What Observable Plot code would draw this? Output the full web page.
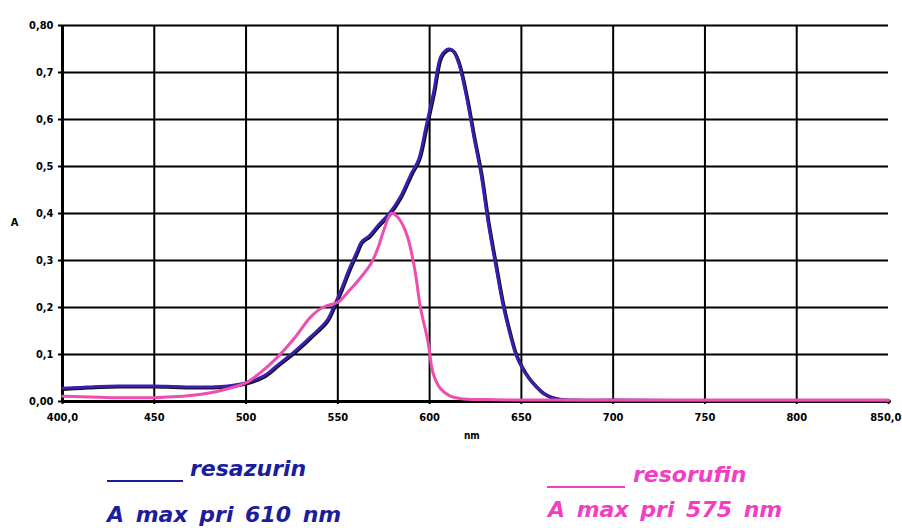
<!DOCTYPE html>
<html><head><meta charset="utf-8">
<script src="https://cdn.jsdelivr.net/npm/d3@7"></script>
<script src="https://cdn.jsdelivr.net/npm/@observablehq/plot@0.6"></script>
<style>
body{margin:0;background:#fff;}
#wrap{position:relative;width:902px;height:528px;overflow:hidden;}
.leg{position:absolute;font-family:"DejaVu Sans",sans-serif;font-weight:bold;font-style:italic;font-size:22px;white-space:pre;line-height:1;word-spacing:4px;}
.bar{position:absolute;height:0;border-bottom:2.5px solid;}
</style></head><body>
<div id="wrap"><div id="chart"></div>
<div class="bar" style="left:107px;top:480px;width:76px;border-color:#1c1c9e"></div>
<div class="leg" style="left:190px;top:458px;color:#1c1c9e">resazurin</div>
<div class="leg" style="left:107px;top:504px;color:#1c1c9e">A max pri 610 nm</div>
<div class="bar" style="left:547px;top:486px;width:78px;border-color:#f23ec4"></div>
<div class="leg" style="left:633px;top:464px;color:#f23ec4">resorufin</div>
<div class="leg" style="left:548px;top:499px;color:#f23ec4">A max pri 575 nm</div>
</div>
<script>
const xTicks = [400,450,500,550,600,650,700,750,800,850];
const xTickLabels = ["400,0","450","500","550","600","650","700","750","800","850,0"];
const yTicks = [0,0.1,0.2,0.3,0.4,0.5,0.6,0.7,0.8];
const yTickLabels = ["0,00","0,1","0,2","0,3","0,4","0,5","0,6","0,7","0,80"];

const resazurinNm = [400,410,420,430,440,450,460,470,480,490,500,510,517,526,535,544,548,552,556,560,563,567,572,578,584,590,594,598,602,606,609,611,613,616,620,624,628,632,636,640,644,647,650,654,658,662,666,671,680,700,750,800,850];
const resazurinA  = [0.028,0.030,0.032,0.033,0.033,0.033,0.032,0.031,0.031,0.033,0.040,0.055,0.077,0.105,0.137,0.172,0.204,0.240,0.280,0.315,0.340,0.352,0.375,0.400,0.435,0.485,0.515,0.584,0.655,0.733,0.748,0.750,0.745,0.718,0.650,0.565,0.484,0.378,0.290,0.205,0.140,0.100,0.075,0.050,0.032,0.018,0.010,0.005,0.003,0.003,0.002,0.002,0.002];

const resorufinNm = [400,410,420,430,440,450,460,470,480,490,500,508,517,526,535,540,544,550,556,561,568,572,575,579,581,584,588,592,595,599,602,606,611,617,630,650,700,750,800,850];
const resorufinA  = [0.011,0.010,0.009,0.008,0.008,0.008,0.010,0.013,0.018,0.027,0.040,0.062,0.094,0.133,0.179,0.196,0.204,0.211,0.235,0.257,0.293,0.328,0.364,0.400,0.398,0.385,0.350,0.279,0.200,0.130,0.059,0.027,0.012,0.006,0.004,0.003,0.003,0.003,0.003,0.003];

const resazurin = resazurinNm.map((x,i)=>({x, y: resazurinA[i]}));
const resorufin = resorufinNm.map((x,i)=>({x, y: resorufinA[i]}));

const lastX = xTicks[xTicks.length - 1];
const fmtX = d => d === lastX ? "" : xTickLabels[xTicks.indexOf(d)];
const fmtXLast = d => xTickLabels[xTicks.indexOf(d)];
const fmtY = d => yTickLabels[yTicks.findIndex(t => Math.abs(t-d)<1e-9)];

const chart = Plot.plot({
  width: 902, height: 440,
  marginLeft: 62, marginRight: 14, marginTop: 25, marginBottom: 39,
  style: {fontFamily: "'DejaVu Sans Condensed','DejaVu Sans',sans-serif", fontWeight: "bold", fontSize: "11px", color: "#000", background: "#fff"},
  x: {domain: [400, 850], label: null},
  y: {domain: [0, 0.8], label: null},
  marks: [
    Plot.ruleY(yTicks.slice(1), {stroke: "#000", strokeWidth: 2}),
    Plot.ruleX(xTicks.slice(1, -1), {stroke: "#000", strokeWidth: 2}),
    Plot.ruleX([400], {stroke: "#000", strokeWidth: 3}),
    Plot.ruleY([0], {stroke: "#000", strokeWidth: 3}),
    Plot.axisX({ticks: xTicks, tickFormat: fmtX, tickSize: 3, tickPadding: 9, label: null, strokeWidth: 2}),
    Plot.axisX({ticks: [lastX], tickFormat: fmtXLast, tickSize: 0, tickPadding: 12, label: null, textAnchor: "end", dx: 13}),
    Plot.axisY({ticks: yTicks, tickFormat: fmtY, tickSize: 4, tickPadding: 5, label: null, strokeWidth: 2}),
    Plot.line(resazurin, {x: "x", y: "y", stroke: "#111", strokeWidth: 3.5, dx: 0.8, dy: 0.8, curve: "catmull-rom"}),
    Plot.line(resazurin, {x: "x", y: "y", stroke: "#3b1db0", strokeWidth: 3, curve: "catmull-rom"}),
    Plot.line(resorufin, {x: "x", y: "y", stroke: "#ee4fae", strokeWidth: 3, curve: "catmull-rom"}),
    Plot.text(["A"], {x: [400], y: [0.38], dx: -48, fontSize: 11, fontWeight: "bold"}),
    Plot.text(["nm"], {x: [623], y: [0], dy: 34, fontSize: 10, fontWeight: "bold"})
  ]
});
document.getElementById("chart").appendChild(chart);
</script>
</body></html>
